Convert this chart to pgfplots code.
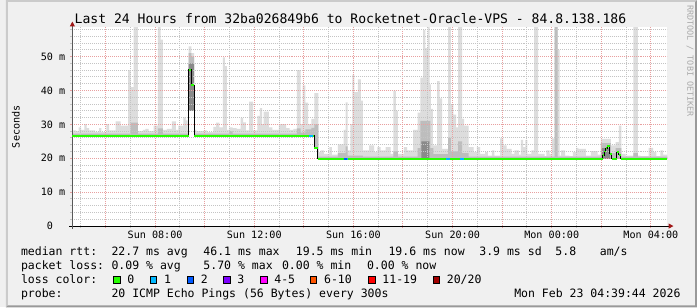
\documentclass[border=0pt]{standalone}
\usepackage{fontspec}
\setmainfont{DejaVu Sans Mono}
\usepackage{pgfplots}
\pgfplotsset{compat=1.18}
\usepackage{pgfplotstable}
\usepgfplotslibrary{fillbetween}
\usetikzlibrary{arrows.meta}

\definecolor{bgc}{HTML}{F0F0F0}
\definecolor{shadeA}{HTML}{CBCBCB}
\definecolor{shadeB}{HTML}{999999}
\definecolor{gridred}{HTML}{E8A0A0}
\definecolor{gridgray}{HTML}{C4C4C4}
\definecolor{arrowred}{HTML}{A01818}
\definecolor{smokeL}{HTML}{DDDDDD}
\definecolor{smokeM}{HTML}{BDBDBD}
\definecolor{smokeD}{HTML}{8A8A8A}
\definecolor{loss0}{HTML}{26FF00}
\definecolor{loss1}{HTML}{00B8FF}
\definecolor{loss2}{HTML}{0059FF}
\definecolor{loss3}{HTML}{7E00FF}
\definecolor{loss4}{HTML}{FF00FF}
\definecolor{loss6}{HTML}{FF5500}
\definecolor{loss11}{HTML}{FF0000}
\definecolor{loss20}{HTML}{A10000}
\definecolor{wm}{HTML}{AAAAAA}

\newcommand\lgf{\fontsize{11.6bp}{14bp}\selectfont}
\newcommand\tkf{\fontsize{10.2bp}{12bp}\selectfont}

% time in hours since Sun 00:00, value in ms
\pgfplotstableread{
h v
4.662 26.7
9.354 34.0
9.570 26.7
14.422 23.0
14.570 19.8
28.662 19.8
}\loTab

\pgfplotstableread{
h v
4.662 28.2
4.810 28.0
4.914 29.1
5.010 28.4
5.142 30.1
5.234 28.9
5.342 28.2
5.582 27.8
5.742 28.9
5.834 27.7
6.034 30.1
6.142 28.2
6.410 30.9
6.610 29.6
6.914 46.0
7.010 41.0
7.130 60
7.302 28.0
7.502 28.4
7.610 28.7
7.742 28.0
7.942 29.6
8.114 60
8.222 55.0
8.314 28.4
8.474 28.7
8.674 30.9
8.834 28.4
8.942 29.6
9.142 32.1
9.234 31.2
9.314 28.2
9.354 53.0
9.462 51.0
9.570 28.4
9.662 28.0
9.954 28.2
10.090 27.7
10.354 29.3
10.462 30.5
10.594 29.1
10.730 49.8
10.810 47.2
10.890 28.4
10.994 29.1
11.130 28.9
11.290 28.7
11.450 31.9
11.554 30.6
11.662 28.2
11.794 36.7
11.954 28.2
12.130 32.5
12.222 34.8
12.314 30.1
12.382 33.8
12.594 29.1
12.730 28.4
12.994 30.1
13.290 28.9
13.422 28.4
13.582 28.7
13.714 46.0
13.874 30.1
13.954 41.5
14.062 36.4
14.170 30.1
14.302 31.6
14.422 39.2
14.582 21.8
14.674 22.3
14.810 21.3
15.034 23.3
15.130 21.1
15.370 24.1
15.610 28.4
15.690 36.5
15.770 22.3
15.874 30.1
15.954 44.7
16.042 39.5
16.182 43.3
16.302 37.0
16.382 22.3
16.634 23.8
16.834 21.8
16.970 23.3
17.102 22.3
17.302 23.3
17.502 21.3
17.610 39.9
17.714 34.0
17.794 21.3
18.034 23.3
18.170 22.3
18.410 28.4
18.594 33.5
18.702 43.8
18.810 57.9
18.902 52.5
18.994 60
19.074 41.8
19.122 34.6
19.210 23.8
19.382 42.8
19.474 37.7
19.582 22.8
19.822 60
19.930 36.0
20.034 32.9
20.142 29.1
20.222 60
20.382 31.6
20.462 29.6
20.650 23.3
20.850 21.8
20.982 23.3
21.114 21.3
21.314 21.8
21.422 20.8
21.582 22.3
21.690 20.8
21.914 25.9
22.050 23.8
22.182 22.8
22.382 21.3
22.490 22.3
22.674 21.1
22.754 25.4
22.850 23.3
22.942 25.4
23.022 21.3
23.182 22.3
23.290 60
23.450 21.3
23.714 20.6
23.782 22.3
23.914 21.3
24.010 25.9
24.122 60
24.242 52.0
24.322 20.8
24.382 22.3
24.542 20.8
24.714 20.6
24.850 21.8
24.982 23.1
25.074 22.8
25.382 20.8
25.582 22.1
25.850 21.1
25.982 25.7
26.382 23.8
26.582 24.8
26.714 29.6
26.810 21.3
26.982 20.8
27.290 60
27.474 20.8
27.582 20.6
27.914 23.1
28.090 21.8
28.222 20.6
28.382 22.3
28.490 21.1
28.662 21.1
}\hiLTab

\pgfplotstableread{
h v
4.662 27.3
7.010 30.5
7.302 27.3
8.114 28.8
8.314 27.3
9.354 51.0
9.462 50.0
9.570 27.3
10.994 28.0
11.130 27.3
13.714 28.8
13.874 27.6
14.062 28.5
14.302 29.0
14.422 30.0
14.582 20.5
15.370 21.5
15.690 23.5
15.770 20.8
16.382 20.5
17.610 22.0
17.794 20.5
18.594 23.0
18.702 31.0
19.102 23.0
19.222 21.2
19.822 26.0
19.930 22.0
20.222 25.0
20.382 21.5
20.650 20.5
24.122 60
24.242 20.5
25.982 24.5
26.382 21.5
26.582 23.0
26.810 20.5
27.290 21.5
27.474 20.5
28.662 20.5
}\hiMTab

\pgfplotstableread{
h v
4.662 26.7
9.354 48.0
9.570 26.7
14.422 23.0
14.570 19.8
18.742 25.0
19.062 19.8
26.010 23.0
26.342 19.8
28.662 19.8
}\hiDTab

\pgfplotstableread{
h v
4.662 26.7
9.354 46.1
9.462 41.5
9.570 26.7
14.422 23.0
14.570 19.8
26.050 20.9
26.114 22.0
26.182 23.0
26.250 23.5
26.342 21.3
26.422 19.9
26.622 21.8
26.714 21.0
26.782 19.8
28.662 19.8
}\medTab

\newcommand\lbox[3]{%
  \draw[fill=#2, line width=1bp] (#1+0.5,24.5) rectangle (#1+6.9,30.8);
  \node[font=\lgf, inner sep=0pt, anchor=base west] at (#1+14,24.3) {#3};}

\begin{document}
\pagecolor{bgc}
\frenchspacing
\begin{tikzpicture}
\begin{axis}[
  scale only axis,
  width=600bp, height=200.3bp,
  xmin=4.662, xmax=28.662, ymin=0, ymax=58.6,
  axis on top,
  axis background/.style={fill=white},
  axis x line*=bottom, axis y line*=left,
  x axis line style={draw=black, line width=1bp, shorten <=-3bp, shorten >=-6.3bp, -{Triangle[length=5bp,width=5bp,color=arrowred]}},
  y axis line style={draw=black!65, line width=1bp, shorten <=-3bp, shorten >=-6bp, -{Triangle[length=5bp,width=5bp,color=arrowred]}},
  xtick={6,8,...,28},
  xticklabels={,Sun 08:00,,Sun 12:00,,Sun 16:00,,Sun 20:00,,Mon 00:00,,Mon 04:00},
  minor xtick={5,7,...,27},
  ytick={0,10,...,50},
  yticklabels={0\rule{12.3bp}{0pt},10 m,20 m,30 m,40 m,50 m},
  minor ytick={2,4,6,8,12,14,16,18,22,24,26,28,32,34,36,38,42,44,46,48,52,54,56,58},
  grid=both,
  major grid style={gridred, line width=1bp, dash pattern=on 1bp off 1bp},
  minor grid style={gridgray, line width=1bp, dash pattern=on 1bp off 1bp},
  tick align=outside, major tick length=2bp, minor tick length=2bp,
  major tick style={gridred, line width=1bp},
  minor tick style={gridgray, line width=1bp},
  xticklabel style={font=\tkf, inner sep=0pt, anchor=north},
  yticklabel style={font=\tkf, inner sep=0pt, anchor=east},
  xticklabel shift=2.6bp, yticklabel shift=5bp,
]
\addplot[name path=lo, draw=none, const plot, forget plot] table {\loTab};
\addplot[name path=hL, draw=none, const plot, forget plot] table {\hiLTab};
\addplot[name path=hM, draw=none, const plot, forget plot] table {\hiMTab};
\addplot[name path=hD, draw=none, const plot, forget plot] table {\hiDTab};
\addplot[fill=smokeL, draw=none] fill between[of=hL and lo];
\addplot[fill=smokeM, draw=none] fill between[of=hM and lo];
\addplot[fill=smokeD, draw=none] fill between[of=hD and lo];
\addplot[on layer=axis foreground, black, line width=1bp, const plot] table {\medTab};
\addplot[on layer=axis foreground, loss0, line width=2bp, jump mark left] table {\medTab};
\addplot[on layer=axis foreground, loss1, line width=2bp] coordinates {(14.222,26.7) (14.354,26.7)};
\addplot[on layer=axis foreground, loss2, line width=2bp] coordinates {(15.634,19.8) (15.722,19.8)};
\addplot[on layer=axis foreground, loss1, line width=2bp] coordinates {(15.722,19.8) (15.782,19.8)};
\addplot[on layer=axis foreground, loss1, line width=2bp] coordinates {(19.742,19.8) (19.914,19.8)};
\addplot[on layer=axis foreground, loss1, line width=2bp] coordinates {(20.314,19.8) (20.450,19.8)};
\coordinate (LL) at (rel axis cs:0,0);
\end{axis}

\begin{scope}[shift={(LL)}, xshift=-67bp, yshift=-82bp, x=1bp, y=1bp]
\fill[shadeA] (0,0) -- (0,310) -- (697,310) -- (695,308) -- (2,308) -- (2,2) -- cycle;
\fill[shadeB] (0,0) -- (697,0) -- (697,310) -- (695,308) -- (695,2) -- (2,2) -- cycle;
\node[font=\fontsize{13.2bp}{16bp}\selectfont, anchor=base, inner sep=0pt] at (347.5,286) {Last 24 Hours from 32ba026849b6 to Rocketnet-Oracle-VPS - 84.8.138.186};
\node[font=\tkf, rotate=90, anchor=center, inner sep=0pt] at (10,182.2) {Seconds};
\node[font=\fontsize{8.5bp}{10bp}\selectfont, text=wm, rotate=-90, anchor=west, inner sep=0pt] at (690,305) {RRDTOOL / TOBI OETIKER};

\begin{scope}[every node/.style={font=\lgf, inner sep=0pt, anchor=base west}]
\node at (15,52.7) {median rtt:};
\node at (106.3,52.7) {22.7 ms avg};
\node at (199,52.7) {46.1 ms max};
\node at (292.3,52.7) {19.5 ms min};
\node at (385.7,52.7) {19.6 ms now};
\node at (477.3,52.7) {3.9 ms sd};
\node at (554,52.7) {5.8};
\node at (598.8,52.7) {am/s};
\node at (15,38.3) {packet loss:};
\node at (106.3,38.3) {0.09 \% avg};
\node at (199,38.3) {5.70 \% max};
\node at (278.3,38.3) {0.00 \% min};
\node at (364,38.3) {0.00 \% now};
\node at (15,24.3) {loss color:};
\node at (15,10) {probe:};
\node at (106.3,10) {20 ICMP Echo Pings (56 Bytes) every 300s};
\node[anchor=base east] at (680.5,10) {Mon Feb 23 04:39:44 2026};
\end{scope}
\lbox{108.3}{loss0}{0}
\lbox{145.3}{loss1}{1}
\lbox{182.3}{loss2}{2}
\lbox{219.3}{loss3}{3}
\lbox{256.5}{loss4}{4-5}
\lbox{306.7}{loss6}{6-10}
\lbox{365.5}{loss11}{11-19}
\lbox{430.5}{loss20}{20/20}
\pgfresetboundingbox
\useasboundingbox (0,0) rectangle (697,310);
\end{scope}
\end{tikzpicture}
\end{document}
